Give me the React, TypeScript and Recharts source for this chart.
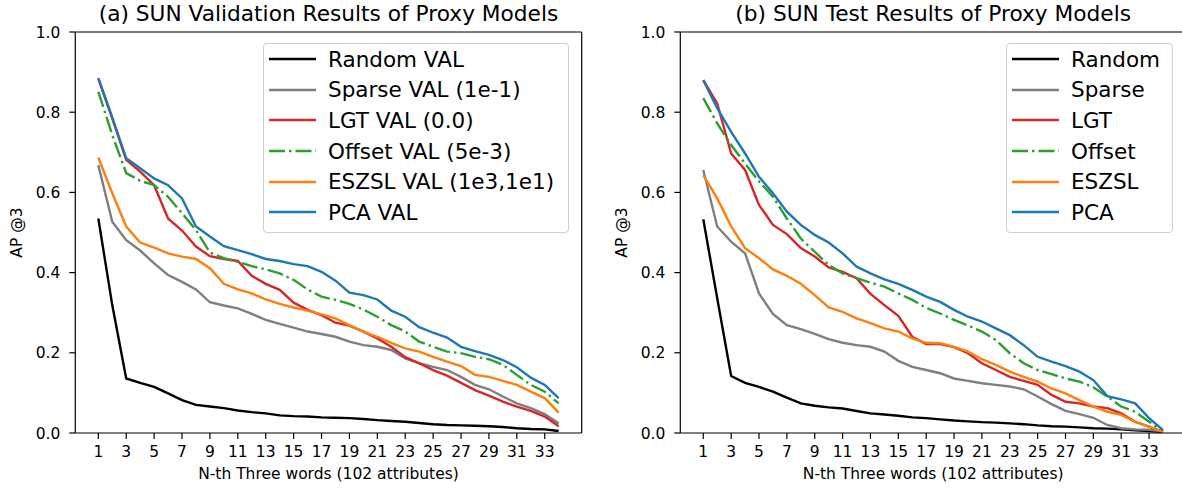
import { LineChart, Line, XAxis, YAxis, ReferenceLine } from "recharts";

const FONT = "'DejaVu Sans', sans-serif";

const N_TH = [
  1, 2, 3, 4, 5, 6, 7, 8, 9, 10, 11, 12, 13, 14, 15, 16, 17, 18, 19, 20, 21,
  22, 23, 24, 25, 26, 27, 28, 29, 30, 31, 32, 33, 34,
];
const X_TICKS = [1, 3, 5, 7, 9, 11, 13, 15, 17, 19, 21, 23, 25, 27, 29, 31, 33];
const Y_TICKS = [0, 0.2, 0.4, 0.6, 0.8, 1.0];
const X_DOMAIN = [-0.65, 35.65];

// (a) validation
const RANDOM_VAL = [
  0.535, 0.319, 0.136, 0.125, 0.115, 0.099, 0.082, 0.07, 0.066, 0.062, 0.056,
  0.052, 0.049, 0.044, 0.042, 0.041, 0.039, 0.038, 0.037, 0.035, 0.032, 0.03,
  0.028, 0.025, 0.022, 0.02, 0.019, 0.018, 0.017, 0.015, 0.012, 0.01, 0.009,
  0.005,
];
const SPARSE_VAL = [
  0.668, 0.527, 0.481, 0.455, 0.423, 0.394, 0.377, 0.358, 0.326, 0.318, 0.311,
  0.297, 0.282, 0.272, 0.263, 0.253, 0.247, 0.24, 0.228, 0.219, 0.215, 0.207,
  0.186, 0.174, 0.165, 0.157, 0.14, 0.12, 0.109, 0.091, 0.074, 0.062, 0.047,
  0.024,
];
const LGT_VAL = [
  0.884, 0.784, 0.681, 0.652, 0.618, 0.535, 0.505, 0.465, 0.441, 0.434, 0.429,
  0.392, 0.372, 0.357, 0.325, 0.307, 0.294, 0.275, 0.268, 0.253, 0.236, 0.215,
  0.189, 0.174, 0.157, 0.143, 0.125, 0.107, 0.093, 0.078, 0.066, 0.055, 0.041,
  0.017,
];
const OFFSET_VAL = [
  0.851, 0.743, 0.648, 0.629, 0.618, 0.589, 0.548, 0.506, 0.45, 0.436, 0.427,
  0.416, 0.408, 0.398, 0.382, 0.358, 0.34, 0.332, 0.322, 0.308, 0.29, 0.269,
  0.253, 0.228, 0.215, 0.203, 0.199, 0.19, 0.184, 0.17, 0.145, 0.12, 0.103,
  0.074,
];
const ESZSL_VAL = [
  0.687, 0.598, 0.515, 0.475, 0.462, 0.448, 0.44, 0.434, 0.411, 0.372, 0.358,
  0.348, 0.333, 0.322, 0.313, 0.305, 0.296, 0.286, 0.269, 0.253, 0.24, 0.225,
  0.211, 0.203, 0.19, 0.178, 0.167, 0.145, 0.14, 0.13, 0.12, 0.103, 0.087,
  0.051,
];
const PCA_VAL = [
  0.885, 0.787, 0.685, 0.66, 0.635, 0.618, 0.585, 0.515, 0.49, 0.466, 0.456,
  0.446, 0.434, 0.429, 0.421, 0.416, 0.402, 0.38, 0.35, 0.344, 0.333, 0.305,
  0.29, 0.264, 0.25, 0.238, 0.215, 0.204, 0.195, 0.182, 0.164, 0.138, 0.12,
  0.087,
];

// (b) test
const RANDOM_TEST = [
  0.533, 0.336, 0.142, 0.125, 0.115, 0.103, 0.088, 0.074, 0.068, 0.064, 0.061,
  0.055, 0.049, 0.046, 0.043, 0.039, 0.037, 0.034, 0.031, 0.029, 0.027, 0.026,
  0.024, 0.022, 0.019, 0.017, 0.016, 0.014, 0.012, 0.011, 0.009, 0.007, 0.005,
  0.003,
];
const SPARSE_TEST = [
  0.656, 0.515, 0.477, 0.448, 0.348, 0.297, 0.269, 0.259, 0.247, 0.234, 0.225,
  0.219, 0.215, 0.203, 0.18, 0.165, 0.157, 0.149, 0.136, 0.13, 0.124, 0.12,
  0.116, 0.109, 0.091, 0.072, 0.055, 0.047, 0.038, 0.02, 0.012, 0.009, 0.008,
  0.004,
];
const LGT_TEST = [
  0.88, 0.822, 0.697, 0.656, 0.569, 0.519, 0.496, 0.461, 0.44, 0.413, 0.402,
  0.386, 0.347, 0.319, 0.292, 0.24, 0.222, 0.222, 0.214, 0.199, 0.174, 0.157,
  0.14, 0.13, 0.12, 0.095, 0.078, 0.074, 0.066, 0.062, 0.049, 0.028, 0.016,
  0.003,
];
const OFFSET_TEST = [
  0.835, 0.772, 0.718, 0.672, 0.627, 0.589, 0.535, 0.485, 0.452, 0.419, 0.398,
  0.386, 0.375, 0.365, 0.348, 0.332, 0.312, 0.298, 0.282, 0.268, 0.253, 0.232,
  0.199, 0.174, 0.157, 0.147, 0.136, 0.128, 0.114, 0.091, 0.066, 0.053, 0.028,
  0.004,
];
const ESZSL_TEST = [
  0.643, 0.585, 0.515, 0.461, 0.436, 0.408, 0.392, 0.372, 0.344, 0.313, 0.302,
  0.286, 0.274, 0.261, 0.253, 0.236, 0.225, 0.224, 0.215, 0.203, 0.184, 0.17,
  0.153, 0.14, 0.128, 0.111, 0.099, 0.082, 0.066, 0.053, 0.045, 0.028, 0.016,
  0.003,
];
const PCA_TEST = [
  0.88, 0.81, 0.751, 0.697, 0.639, 0.598, 0.552, 0.519, 0.494, 0.475, 0.448,
  0.415, 0.398, 0.383, 0.372, 0.357, 0.34, 0.327, 0.307, 0.29, 0.278, 0.261,
  0.244, 0.219, 0.19, 0.178, 0.167, 0.153, 0.132, 0.092, 0.084, 0.074, 0.037,
  0.007,
];

const COLORS = ["#000000", "#7f7f7f", "#d62728", "#2ca02c", "#ff7f0e", "#1f77b4"];
const DASHES = [undefined, undefined, undefined, "16 4 2.5 4", undefined, undefined];

const VAL_NAMES = [
  "Random VAL",
  "Sparse VAL (1e-1)",
  "LGT VAL (0.0)",
  "Offset VAL (5e-3)",
  "ESZSL VAL (1e3,1e1)",
  "PCA VAL",
];
const TEST_NAMES = ["Random", "Sparse", "LGT", "Offset", "ESZSL", "PCA"];

const VAL_VALUES = [RANDOM_VAL, SPARSE_VAL, LGT_VAL, OFFSET_VAL, ESZSL_VAL, PCA_VAL];
const TEST_VALUES = [RANDOM_TEST, SPARSE_TEST, LGT_TEST, OFFSET_TEST, ESZSL_TEST, PCA_TEST];

const HEIGHT = 491;
const PLOT_TOP = 32;
const PLOT_BOTTOM = 433;
const Y_AXIS_W = 60;
const X_AXIS_H = 50;

interface PanelProps {
  left: number;
  width: number;
  marginLeft: number;
  marginRight: number;
  title: string;
  names: string[];
  values: number[][];
  yLabelX: number;
  legend: { left: number; width: number };
}

function Panel({
  left,
  width,
  marginLeft,
  marginRight,
  title,
  names,
  values,
  yLabelX,
  legend,
}: PanelProps) {
  const data = N_TH.map((n, i) => {
    const row: Record<string, number> = { n };
    values.forEach((v, k) => {
      row[`s${k}`] = v[i];
    });
    return row;
  });

  const plotLeft = marginLeft + Y_AXIS_W;
  const plotRight = width - marginRight;
  const plotMid = (plotLeft + plotRight) / 2;
  const tickStyle = { fontSize: 15.5, fill: "#000", fontFamily: FONT };

  return (
    <div style={{ position: "absolute", left, top: 0, width, height: HEIGHT }}>
      <div
        style={{
          position: "absolute",
          left: plotLeft,
          width: plotRight - plotLeft,
          top: 2,
          lineHeight: "24px",
          fontSize: 21.7,
          textAlign: "center",
          fontFamily: FONT,
          color: "#000",
          whiteSpace: "nowrap",
        }}
      >
        {title}
      </div>
      <LineChart
        width={width}
        height={HEIGHT}
        data={data}
        margin={{
          top: PLOT_TOP,
          right: marginRight,
          left: marginLeft,
          bottom: HEIGHT - PLOT_BOTTOM - X_AXIS_H,
        }}
      >
        <XAxis
          dataKey="n"
          type="number"
          domain={X_DOMAIN}
          ticks={X_TICKS}
          allowDataOverflow
          height={X_AXIS_H}
          tickSize={6}
          tickMargin={7}
          tick={tickStyle}
          stroke="#000"
          strokeWidth={1.2}
          tickLine={{ stroke: "#000", strokeWidth: 1.2 }}
          label={() => (
            <text
              x={plotMid}
              y={474}
              textAnchor="middle"
              dominantBaseline="central"
              fontSize={15.5}
              fontFamily={FONT}
              fill="#000"
            >
              N-th Three words (102 attributes)
            </text>
          )}
        />
        <YAxis
          type="number"
          domain={[0, 1]}
          ticks={Y_TICKS}
          width={Y_AXIS_W}
          tickSize={6}
          tickMargin={9}
          tick={tickStyle}
          tickFormatter={(v: number) => v.toFixed(1)}
          stroke="#000"
          strokeWidth={1.2}
          tickLine={{ stroke: "#000", strokeWidth: 1.2 }}
          label={() => (
            <text
              x={yLabelX}
              y={(PLOT_TOP + PLOT_BOTTOM) / 2}
              transform={`rotate(-90, ${yLabelX}, ${(PLOT_TOP + PLOT_BOTTOM) / 2})`}
              textAnchor="middle"
              dominantBaseline="central"
              fontSize={15.5}
              fontFamily={FONT}
              fill="#000"
            >
              AP @3
            </text>
          )}
        />
        {/* top and right spines of the axes box */}
        <ReferenceLine y={1} stroke="#000" strokeWidth={1.2} ifOverflow="visible" />
        <ReferenceLine
          x={X_DOMAIN[1]}
          stroke="#000"
          strokeWidth={1.2}
          ifOverflow="visible"
        />
        {names.map((name, k) => (
          <Line
            key={name}
            type="linear"
            dataKey={`s${k}`}
            name={name}
            stroke={COLORS[k]}
            strokeWidth={2.4}
            strokeDasharray={DASHES[k]}
            dot={false}
            isAnimationActive={false}
          />
        ))}
      </LineChart>
      <div
        style={{
          position: "absolute",
          left: legend.left,
          top: 43,
          width: legend.width,
          padding: "0 0 4px 0",
          border: "1px solid #d0d0d0",
          borderRadius: 4,
          background: "rgba(255,255,255,0.85)",
          fontFamily: FONT,
          fontSize: 21.5,
          color: "#000",
          boxSizing: "border-box",
        }}
      >
        {names.map((name, k) => (
          <div
            key={name}
            style={{
              display: "flex",
              alignItems: "center",
              height: 30.6,
              whiteSpace: "nowrap",
            }}
          >
            <svg width={64} height={10} style={{ flex: "none" }}>
              <line
                x1={5}
                x2={52}
                y1={5}
                y2={5}
                stroke={COLORS[k]}
                strokeWidth={2.4}
                strokeDasharray={DASHES[k]}
              />
            </svg>
            <span>{name}</span>
          </div>
        ))}
      </div>
    </div>
  );
}

export default function App() {
  return (
    <div
      style={{
        position: "absolute",
        left: 0,
        top: 0,
        width: 1182,
        height: HEIGHT,
        overflow: "hidden",
        background: "#fff",
      }}
    >
      <Panel
        left={0}
        width={600}
        marginLeft={15.3}
        marginRight={18.3}
        title="(a) SUN Validation Results of Proxy Models"
        names={VAL_NAMES}
        values={VAL_VALUES}
        yLabelX={17}
        legend={{ left: 263, width: 306 }}
      />
      <Panel
        left={600}
        width={600}
        marginLeft={20.3}
        marginRight={14}
        title="(b) SUN Test Results of Proxy Models"
        names={TEST_NAMES}
        values={TEST_VALUES}
        yLabelX={22}
        legend={{ left: 406, width: 167 }}
      />
    </div>
  );
}
